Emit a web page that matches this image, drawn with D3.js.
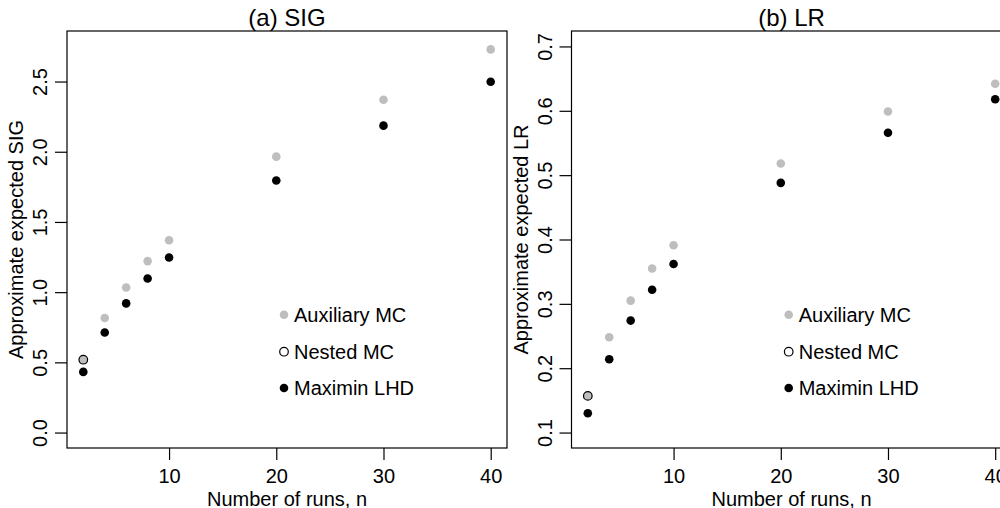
<!DOCTYPE html>
<html>
<head>
<meta charset="utf-8">
<script src="https://cdn.jsdelivr.net/npm/d3@7"></script>
<style>
  body { margin: 0; background: #fff; }
  text { font-family: "Liberation Sans", Arial, sans-serif; fill: #000; }
</style>
</head>
<body>
<svg id="chart" width="1000" height="508"></svg>
<script>
// Data
const runs = [2, 4, 6, 8, 10, 20, 30, 40];
const nestedRuns = [2];

const sigAux = [0.519, 0.816, 1.033, 1.221, 1.370, 1.965, 2.370, 2.729];
const sigLhd = [0.432, 0.713, 0.920, 1.097, 1.247, 1.795, 2.186, 2.499];
const sigNested = [0.519];

const lrAux = [0.157, 0.248, 0.305, 0.355, 0.391, 0.518, 0.599, 0.642];
const lrLhd = [0.130, 0.214, 0.274, 0.322, 0.362, 0.488, 0.566, 0.618];
const lrNested = [0.157];

const xTicks = [10, 20, 30, 40];
const sigTicks = [0.0, 0.5, 1.0, 1.5, 2.0, 2.5];
const lrTicks = [0.1, 0.2, 0.3, 0.4, 0.5, 0.6, 0.7];

const legendLabels = ["Auxiliary MC", "Nested MC", "Maximin LHD"];

const svg = d3.select('#chart');

// R-style 4% padding around a range
function pad(lo, hi) {
    const d = (hi - lo) * 0.04;
    return [lo - d, hi + d];
}

function drawPanel(opts) {
    const g = svg.append('g');
    const left = opts.left, right = opts.right, top = 31, bottom = 448;

    const x = d3.scaleLinear().domain(pad(2, 40)).range([left, right]);
    const y = d3.scaleLinear().domain(pad(opts.ylim[0], opts.ylim[1])).range([bottom, top]);

    // box
    g.append('rect')
        .attr('x', left).attr('y', top)
        .attr('width', right - left).attr('height', bottom - top)
        .attr('fill', 'none').attr('stroke', '#000').attr('stroke-width', 1.2);

    // x axis
    const xAxis = d3.axisBottom(x).tickValues(xTicks).tickSize(12).tickSizeOuter(0).tickPadding(9);
    const xg = g.append('g').attr('transform', `translate(0,${bottom})`).call(xAxis);
    xg.select('.domain').remove();
    xg.selectAll('line').attr('stroke', '#000').attr('stroke-width', 1.2);
    xg.selectAll('text').attr('font-size', 20).attr('font-family', '"Liberation Sans", Arial, sans-serif');

    // y axis (labels parallel to axis, like R)
    const yAxis = d3.axisLeft(y).tickValues(opts.yTicks).tickSize(12).tickSizeOuter(0)
        .tickFormat(d3.format('.1f'));
    const yg = g.append('g').attr('transform', `translate(${left},0)`).call(yAxis);
    yg.select('.domain').remove();
    yg.selectAll('line').attr('stroke', '#000').attr('stroke-width', 1.2);
    yg.selectAll('text')
        .attr('font-size', 20)
        .attr('font-family', '"Liberation Sans", Arial, sans-serif')
        .attr('x', null).attr('dy', null)
        .attr('text-anchor', 'middle')
        .attr('transform', 'translate(-20,0) rotate(-90)');

    // titles
    g.append('text')
        .attr('x', (left + right) / 2).attr('y', 26)
        .attr('text-anchor', 'middle').attr('font-size', 24)
        .text(opts.title);
    g.append('text')
        .attr('x', (left + right) / 2).attr('y', 506)
        .attr('text-anchor', 'middle').attr('font-size', 20)
        .text('Number of runs, n');
    g.append('text')
        .attr('transform', `translate(${left - 44},${(top + bottom) / 2}) rotate(-90)`)
        .attr('text-anchor', 'middle').attr('font-size', 20)
        .text(opts.ylab);

    // points
    g.selectAll('.aux').data(runs).enter().append('circle')
        .attr('cx', d => x(d)).attr('cy', (d, i) => y(opts.aux[i]))
        .attr('r', 4.3).attr('fill', '#bebebe');
    g.selectAll('.lhd').data(runs).enter().append('circle')
        .attr('cx', d => x(d)).attr('cy', (d, i) => y(opts.lhd[i]))
        .attr('r', 4.3).attr('fill', '#000');
    g.selectAll('.nested').data(nestedRuns).enter().append('circle')
        .attr('cx', d => x(d)).attr('cy', (d, i) => y(opts.nested[i]))
        .attr('r', 4.3).attr('fill', 'none').attr('stroke', '#000').attr('stroke-width', 1.2);

    // legend
    const lx = opts.legendX, ly = [314.7, 351.7, 388];
    const styles = [
        { fill: '#bebebe', stroke: 'none' },
        { fill: 'none', stroke: '#000' },
        { fill: '#000', stroke: 'none' }
    ];
    legendLabels.forEach((lab, i) => {
        g.append('circle')
            .attr('cx', lx).attr('cy', ly[i]).attr('r', 4.3)
            .attr('fill', styles[i].fill).attr('stroke', styles[i].stroke).attr('stroke-width', 1.2);
        g.append('text')
            .attr('x', lx + 10).attr('y', ly[i]).attr('dy', '0.35em')
            .attr('font-size', 20)
            .text(lab);
    });
}

drawPanel({
    left: 67, right: 507, ylim: [0, 2.75], yTicks: sigTicks,
    aux: sigAux, lhd: sigLhd, nested: sigNested,
    title: '(a) SIG', ylab: 'Approximate expected SIG', legendX: 284
});

drawPanel({
    left: 571.5, right: 1011.5, ylim: [0.1, 0.7], yTicks: lrTicks,
    aux: lrAux, lhd: lrLhd, nested: lrNested,
    title: '(b) LR', ylab: 'Approximate expected LR', legendX: 788.7
});
</script>
</body>
</html>
